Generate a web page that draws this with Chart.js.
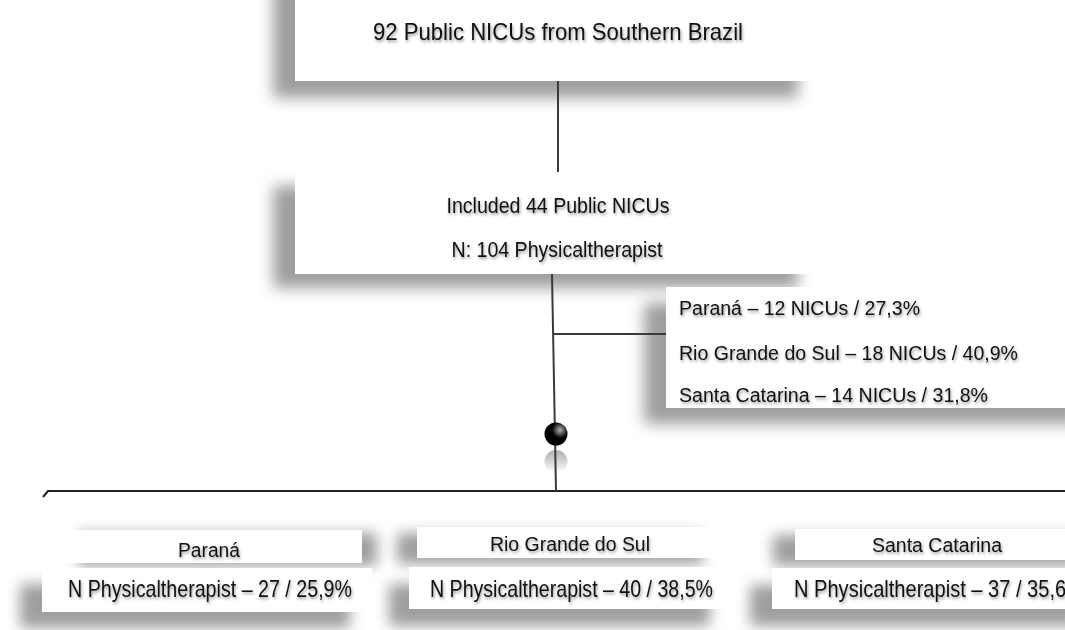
<!DOCTYPE html>
<html>
<head>
<meta charset="utf-8">
<script src="https://cdn.jsdelivr.net/npm/chart.js@4.4.0/dist/chart.umd.min.js"></script>
<style>
  html, body { margin: 0; padding: 0; background: #fff; }
  #wrap { width: 1065px; height: 630px; }
</style>
</head>
<body>
<div id="wrap"><canvas id="flow" width="1065" height="630"></canvas></div>
<script>
// Flow data
const totalNicus = 92;
const includedNicus = 44;
const totalPhysio = 104;
const states = ['Paraná', 'Rio Grande do Sul', 'Santa Catarina'];
const stateNicus = [12, 18, 14];
const stateNicusPct = ['27,3', '40,9', '31,8'];
const statePhysio = [27, 40, 37];
const statePhysioPct = ['25,9', '38,5', '35,6'];

// Layout in axis units (x 0..1065, y 0..630 from the top)
const boxes = [
  { x0: 295, x1: 820, y0: -40, y1: 81, sx: -22, sy: 17 },   // source
  { x0: 295, x1: 820, y0: 172, y1: 274, sx: -22, sy: 14 },  // included
  { x0: 666, x1: 1100, y0: 287, y1: 408, sx: -22, sy: 16 }, // per state NICUs
  { x0: 63, x1: 362, y0: 530, y1: 563, sx: 15, sy: 3 },     // Paraná header
  { x0: 42, x1: 372, y0: 568, y1: 612, sx: -22, sy: 16 },
  { x0: 417, x1: 723, y0: 527, y1: 558, sx: -20, sy: 6 },   // RS header
  { x0: 409, x1: 730, y0: 567, y1: 609, sx: -20, sy: 17 },
  { x0: 795, x1: 1100, y0: 529, y1: 560, sx: -22, sy: 6 },  // SC header
  { x0: 772, x1: 1100, y0: 568, y1: 609, sx: -22, sy: 17 }
];

const links = [
  [[558, 81], [558, 172]],
  [[552, 274], [556, 491]],
  [[553, 334], [666, 334]],
  [[1065, 491], [48, 491], [43, 497]]
];
const dot = { x: 556, y: 434, r: 11.5 };

const headerX = [209, 570, 937];
const headerY = [557, 551, 552];
const headerW = [62, 160, 130];
const bodyX = [68, 430, 794];
const bodyW = [284, 283, 290];

const texts = [
  { t: `${totalNicus} Public NICUs from Southern Brazil`, x: 558, y: 40, s: 24, w: 370, a: 'center' },
  { t: `Included ${includedNicus} Public NICUs`, x: 558, y: 213, s: 22, w: 223, a: 'center' },
  { t: `N: ${totalPhysio} Physicaltherapist`, x: 557, y: 257, s: 22, w: 211, a: 'center' }
];
const listY = [315, 360, 402];
const listW = [241, 339, 309];
states.forEach((st, i) => {
  texts.push({ t: `${st} – ${stateNicus[i]} NICUs / ${stateNicusPct[i]}%`, x: 679, y: listY[i], s: 20, w: listW[i], a: 'left' });
  texts.push({ t: st, x: headerX[i], y: headerY[i], s: 20, w: headerW[i], a: 'center' });
  texts.push({ t: `N Physicaltherapist – ${statePhysio[i]} / ${statePhysioPct[i]}%`, x: bodyX[i], y: 597, s: 24, w: bodyW[i], a: 'left' });
});

const flowPlugin = {
  id: 'flow',
  beforeDatasetsDraw(chart) {
    const { ctx, scales: { x, y } } = chart;
    boxes.forEach(b => {
      const px0 = x.getPixelForValue(b.x0), px1 = x.getPixelForValue(b.x1);
      const py0 = y.getPixelForValue(b.y0), py1 = y.getPixelForValue(b.y1);
      ctx.save();
      ctx.shadowColor = 'rgba(0,0,0,0.38)';
      ctx.shadowBlur = 14;
      ctx.shadowOffsetX = b.sx;
      ctx.shadowOffsetY = b.sy;
      ctx.fillStyle = '#fff';
      ctx.fillRect(px0, py0, px1 - px0, py1 - py0);
      ctx.restore();
    });
    // reflection of the dot
    const cx = x.getPixelForValue(dot.x), cy = y.getPixelForValue(dot.y + 2.4 * dot.r);
    const g = ctx.createLinearGradient(0, cy - dot.r, 0, cy + dot.r);
    g.addColorStop(0, 'rgba(0,0,0,0.32)');
    g.addColorStop(1, 'rgba(0,0,0,0)');
    ctx.save();
    ctx.fillStyle = g;
    ctx.beginPath();
    ctx.ellipse(cx, cy, dot.r, dot.r, 0, 0, Math.PI * 2);
    ctx.fill();
    ctx.restore();
  },
  afterDatasetsDraw(chart) {
    const { ctx, scales: { x, y } } = chart;
    // highlight on the dot
    const cx = x.getPixelForValue(dot.x), cy = y.getPixelForValue(dot.y);
    const hg = ctx.createRadialGradient(cx + 4, cy - 4, 0, cx + 4, cy - 4, dot.r * 0.7);
    hg.addColorStop(0, 'rgba(255,255,255,0.7)');
    hg.addColorStop(1, 'rgba(255,255,255,0)');
    ctx.save();
    ctx.fillStyle = hg;
    ctx.beginPath();
    ctx.arc(cx, cy, dot.r, 0, Math.PI * 2);
    ctx.fill();
    ctx.restore();

    texts.forEach(t => {
      ctx.save();
      ctx.font = `${t.s}px "Liberation Sans", Arial, sans-serif`;
      ctx.textAlign = t.a;
      ctx.textBaseline = 'alphabetic';
      ctx.fillStyle = '#111';
      ctx.shadowColor = 'rgba(0,0,0,0.4)';
      ctx.shadowBlur = 3;
      ctx.shadowOffsetX = 1;
      ctx.shadowOffsetY = 2;
      ctx.fillText(t.t, x.getPixelForValue(t.x), y.getPixelForValue(t.y), t.w);
      ctx.restore();
    });
  }
};

const datasets = [{
  data: [{ x: dot.x, y: dot.y }],
  pointRadius: dot.r,
  pointBackgroundColor: '#000',
  pointBorderWidth: 0,
  clip: false
}];
links.forEach((seg, i) => {
  datasets.push({
    data: seg.map(p => ({ x: p[0], y: p[1] })),
    showLine: true,
    borderColor: i === 3 ? '#222' : '#3a3a3a',
    borderWidth: 2,
    pointRadius: 0,
    fill: false,
    clip: false
  });
});

new Chart(document.getElementById('flow'), {
  type: 'scatter',
  data: { datasets },
  options: {
    responsive: false,
    animation: false,
    events: [],
    layout: { padding: 0, autoPadding: false },
    plugins: { legend: { display: false }, tooltip: { enabled: false } },
    scales: {
      x: { type: 'linear', min: 0, max: 1065, display: false },
      y: { type: 'linear', min: 0, max: 630, reverse: true, display: false }
    }
  },
  plugins: [flowPlugin]
});
</script>
</body>
</html>
